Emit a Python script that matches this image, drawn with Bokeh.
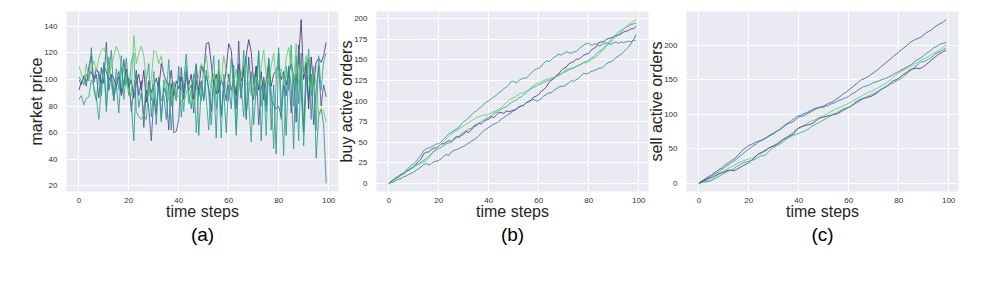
from bokeh.plotting import figure
from bokeh.layouts import row
from bokeh.models import Range1d, FixedTicker
from bokeh.embed import file_html
from bokeh.resources import INLINE

# ---------------- data ----------------
steps = list(range(100))

# (a) market price, five runs
price_purple = [92,98,101,99,103,106,100,108,104,97, 110,106,99,104,101,95,102,88,96,108,
                94,100,86,98,104,92,107,83,99,90, 96,101,92,112,104,99,95,107,88,99,
                93,102,90,106,96,104,85,99,92,110, 105,127,128,112,96,104,90,100,94,108,
                127,122,100,88,112,99,105,118,130,121, 96,110,92,106,85,100,112,95,104,107,
                110,100,106,96,104,112,102,98,116,145, 100,112,78,117,96,113,116,113,118,128]
price_blue = [100,96,103,95,110,118,98,104,86,109, 97,128,92,103,84,99,106,90,115,97,
              101,76,93,107,88,99,64,92,78,54, 86,74,101,70,94,88,62,97,60,61,
              70,109,85,103,92,96,75,111,88,99, 85,103,94,76,100,89,107,73,96,84,
              104,92,100,78,129,86,110,70,117,93, 85,110,66,93,101,80,115,85,81,78,
              80,72,96,88,110,75,104,68,126,90, 60,113,85,104,66,92,110,80,96,87]
price_teal = [102,99,96,104,99,124,92,84,106,88, 113,76,104,122,88,96,75,109,95,116,
              94,82,54,105,79,90,74,99,112,72, 94,66,102,84,88,70,97,62,90,84,
              110,72,98,119,90,78,100,112,58,95, 84,107,90,66,98,56,115,72,92,60,
              96,78,111,58,102,86,122,74,90,106, 66,94,121,54,102,76,116,62,96,44,
              120,70,104,58,110,96,48,118,82,120, 62,98,116,70,110,41,72,78,66,22]
price_green = [85,88,81,86,87,100,95,86,70,94, 112,80,117,96,86,108,92,118,85,104,
               88,114,120,76,72,70,73,70,95,84, 106,80,95,68,100,88,115,80,98,86,
               103,95,76,110,82,92,104,60,92,84, 110,86,62,97,118,78,100,56,104,92,
               84,116,92,62,106,94,72,118,84,53, 104,88,122,80,100,58,116,90,48,100,
               124,86,43,110,92,126,80,104,54,113, 50,98,123,88,100,62,118,92,114,120]
price_mint = [110,104,96,112,100,108,114,106,116,122, 124,118,104,110,118,125,120,112,108,96,
              92,88,133,112,120,125,118,98,88,100, 122,120,112,118,104,96,84,90,98,86,
              88,84,82,90,96,88,80,92,104,112, 108,118,100,94,104,92,110,98,118,106,
              100,90,96,108,92,104,112,96,98,88, 94,102,96,110,122,104,96,110,120,100,
              104,108,98,116,124,110,100,127,96,112, 104,118,100,92,110,96,74,78,76,68]

# (b) buy active orders
buy_purple = [0,2,5,7,8,11,12,15,16,18, 20,24,27,30,36,38,38,41,43,43,
              45,48,48,50,52,51,54,57,56,58, 60,63,62,65,69,70,73,72,75,77,
              78,81,80,83,86,86,85,88,87,88, 89,90,93,94,95,98,99,101,105,106,
              108,112,114,117,122,125,127,131,133,137, 140,141,145,147,148,151,151,153,156,157,
              158,162,164,166,171,172,172,175,176,177, 178,180,180,182,184,185,186,188,188,191]
buy_blue = [0,1,2,4,5,6,8,9,11,12, 14,16,18,20,23,24,22,24,26,27,
            28,30,33,35,34,38,40,41,42,44, 45,47,49,51,53,55,58,61,64,66,
            68,70,72,73,75,78,80,82,84,86, 88,90,92,94,95,98,100,101,102,100,
            101,103,106,108,110,110,113,115,117,118, 118,120,122,125,124,126,128,131,134,133,
            134,136,137,138,140,140,142,145,147,148, 150,153,155,157,160,163,166,170,175,181]
buy_teal = [0,3,5,7,9,11,13,16,19,22, 24,27,31,35,40,42,43,44,46,48,
            48,51,54,57,60,62,64,66,68,72, 75,77,80,83,86,88,91,93,96,99,
            100,103,105,107,110,112,115,117,120,124, 124,122,125,127,128,128,131,134,137,139,
            140,142,146,149,148,150,153,155,157,156, 158,160,159,158,160,160,163,166,168,170,
            170,168,169,170,167,168,170,171,170,169, 171,172,170,172,171,172,173,172,174,174]
buy_green = [0,2,4,6,8,10,12,14,16,18, 20,22,24,26,28,30,33,36,39,40,
             42,44,46,48,49,50,53,55,57,60, 62,64,66,67,70,72,73,75,77,79,
             80,82,85,86,88,90,92,93,96,98, 100,101,104,105,108,110,113,115,117,118,
             120,121,123,124,125,126,128,130,132,133, 135,136,138,139,140,142,143,145,147,148,
             150,152,154,157,160,162,165,168,171,175, 178,181,184,186,188,190,191,193,194,195]
buy_mint = [0,3,5,7,8,10,12,15,17,19, 21,22,23,25,26,28,31,35,39,42,
            45,48,51,54,57,60,62,64,66,68, 70,72,74,76,78,80,81,82,83,83,
            84,86,87,88,90,92,95,98,101,103, 104,106,108,110,110,112,114,117,119,121,
            122,124,125,126,127,128,129,130,131,133, 136,138,139,140,141,142,144,145,146,147,
            148,150,152,154,157,160,163,166,169,172, 175,178,181,184,187,190,193,195,197,199]

# (c) sell active orders
sell_blue = [0,3,5,8,10,12,15,17,20,22, 25,28,30,33,35,38,42,46,50,52,
             55,56,58,60,61,62,64,66,69,71, 73,75,77,79,82,85,87,88,90,93,
             96,97,98,100,102,104,106,108,109,111, 112,114,116,117,119,122,124,127,130,132,
             135,138,141,144,147,150,151,153,155,158, 160,163,166,169,172,175,178,181,184,187,
             190,193,196,199,202,205,207,209,210,212, 215,218,220,222,225,228,230,232,234,237]
sell_teal = [0,2,4,6,8,10,13,15,17,20, 22,25,27,30,32,35,38,41,44,47,
             50,52,55,57,60,62,64,66,68,70, 72,75,77,80,83,86,88,91,93,96,
             98,99,101,102,104,106,108,109,110,110, 110,112,113,115,116,118,120,121,123,124,
             126,129,131,133,136,138,140,141,142,144, 146,147,148,150,151,152,154,156,158,160,
             162,164,166,168,170,172,175,178,180,182, 185,188,190,193,196,198,200,202,203,204]
sell_mint = [0,1,2,3,3,4,7,10,13,16, 18,20,22,24,26,28,30,31,33,34,
             35,36,38,40,42,45,47,49,51,53, 55,57,60,62,64,66,69,72,75,78,
             80,82,84,86,88,90,91,93,95,97, 98,100,102,104,106,108,109,111,113,114,
             116,118,120,122,124,126,128,130,132,133, 135,137,139,141,143,145,148,151,154,157,
             160,162,164,166,168,170,172,174,176,178, 180,182,184,186,188,190,192,195,198,200]
sell_purple = [0,2,4,5,7,8,10,12,14,15, 16,18,19,19,18,20,22,24,26,28,
               30,33,36,40,43,44,46,48,51,53, 54,56,58,61,64,66,68,70,72,77,
               80,82,83,84,85,86,88,91,94,95, 96,97,98,99,100,100,102,104,106,108,
               110,112,115,118,120,122,123,124,125,126, 128,130,133,136,138,140,143,146,149,150,
               152,155,158,160,163,165,166,167,166,167, 169,172,175,178,181,184,187,189,191,193]
sell_green = [0,1,2,2,3,4,6,8,10,12, 14,16,18,19,21,24,26,28,30,31,
              32,33,34,36,38,40,40,42,46,50, 52,54,56,58,61,64,66,68,70,71,
              72,74,75,77,79,82,84,86,88,90, 92,94,96,98,100,102,104,106,108,109,
              110,112,114,116,118,121,123,125,127,128, 130,132,134,136,138,140,142,144,146,148,
              150,152,155,158,161,164,167,170,173,176, 176,178,180,182,185,188,190,192,194,196]

x_ticks = [0, 20, 40, 60, 80, 100]
price_ticks = [20, 40, 60, 80, 100, 120, 140]
buy_ticks = [0, 25, 50, 75, 100, 125, 150, 175, 200]
sell_ticks = [0, 50, 100, 150, 200]

PURPLE, BLUE, STEEL, TEAL, GREEN, MINT = "#482475", "#3b528b", "#2a788e", "#21918c", "#22a884", "#5ec962"

FONT = "Liberation Sans"


def padded(lo, hi, frac=0.05):
    d = (hi - lo) * frac
    return Range1d(lo - d, hi + d)


def panel(series, ylabel, yticks, caption, width, left, right):
    allv = [v for s, _ in series for v in s]
    p = figure(width=width, height=277, output_backend="svg", toolbar_location=None,
               x_range=padded(0, 99), y_range=padded(min(allv), max(allv)),
               min_border_left=left, min_border_right=right,
               min_border_top=11, min_border_bottom=86,
               background_fill_color="#EAEAF2", border_fill_color=None,
               outline_line_color=None, title=caption, title_location="below")
    for s, c in series:
        p.line(steps, s, line_color=c, line_width=1, line_alpha=0.8)
    p.xaxis.ticker = FixedTicker(ticks=x_ticks)
    p.yaxis.ticker = FixedTicker(ticks=yticks)
    for ax in (p.xaxis, p.yaxis):
        ax.axis_line_color = None
        ax.major_tick_line_color = None
        ax.minor_tick_line_color = None
        ax.major_label_text_font = FONT
        ax.major_label_text_font_size = "8px"
        ax.major_label_text_color = "#333333"
        ax.axis_label_text_font = FONT
        ax.axis_label_text_font_size = "16px"
        ax.axis_label_text_font_style = "normal"
        ax.axis_label_text_color = "#262626"
    p.xaxis.major_label_standoff = 0
    p.yaxis.major_label_standoff = 3
    p.xaxis.axis_label = "time steps"
    p.yaxis.axis_label = ylabel
    p.xaxis.axis_label_standoff = -3
    p.yaxis.axis_label_standoff = -4
    p.grid.grid_line_color = "white"
    p.grid.grid_line_width = 1
    p.title.align = "center"
    p.title.offset = -15
    p.title.text_font = FONT
    p.title.text_font_size = "19px"
    p.title.text_font_style = "normal"
    p.title.text_color = "black"
    p.title.standoff = -2
    return p


pa = panel([(price_purple, PURPLE), (price_blue, BLUE), (price_teal, TEAL),
            (price_green, GREEN), (price_mint, MINT)],
           "market price", price_ticks, "(a)", 339, 66, 1)
pb = panel([(buy_purple, PURPLE), (buy_blue, STEEL), (buy_teal, TEAL),
            (buy_green, GREEN), (buy_mint, MINT)],
           "buy active orders", buy_ticks, "(b)", 328, 55, 1)
pc = panel([(sell_blue, BLUE), (sell_teal, STEEL), (sell_mint, MINT),
            (sell_purple, PURPLE), (sell_green, GREEN)],
           "sell active orders", sell_ticks, "(c)", 347, 55, 20)
pa.border_fill_color = "white"
pb.margin = (0, 0, 0, -18)
pc.margin = (0, 0, 0, -18)

layout = row(pa, pb, pc)
open("out.html", "w").write(file_html(layout, INLINE))
